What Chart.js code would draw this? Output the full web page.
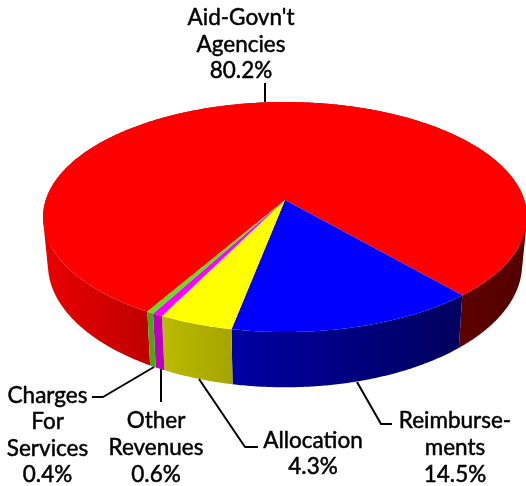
<!DOCTYPE html>
<html><head><meta charset="utf-8">
<style>html,body{margin:0;padding:0;background:#fff}canvas{display:block}</style>
<script src="https://cdn.jsdelivr.net/npm/chart.js@4"></script></head>
<body><canvas id="c" width="526" height="486"></canvas>
<script>
const categories = ["Aid-Govn't Agencies","Reimbursements","Allocation","Other Revenues","Charges For Services"];
const values = [80.2,14.5,4.3,0.6,0.4];
const topColors = ["#ff0000","#0000ff","#ffff00","#ff00ff","#66dd22"];
const labelLines = [["Aid-Govn't","Agencies"],["Reimburse-","ments"],["Allocation"],["Other","Revenues"],["Charges","For","Services"]];

const P = {cx:285, cy:200, R:239.3, S:112.5, k:0.148};
function rim(a){
  const u=Math.cos(a), v=Math.sin(a), w=1-P.k*v;
  return [P.cx+P.R*u/w, P.cy+P.S*v/w];
}
function rimLow(a){
  const p=rim(a), dy=p[1]-P.cy;
  return [P.cx+(p[0]-P.cx)*0.98, p[1]+46+0.07*dy];
}
const shadeStops=[[0,.92],[.22,.75],[.4,.64],[.86,.37],[1,.33]];
function rgb(hex){return [1,3,5].map(i=>parseInt(hex.substr(i,2),16));}
const labelLayout=[
 {x:241,y:[25,52,78],line:[[265,83],[265,102]]},
 {x:455,y:[428,455,482],line:[[357,382],[381,424],[392,424]]},
 {x:313,y:[448,474],line:[[199,379],[245,447],[258,447]]},
 {x:156,y:[428,455,482],line:[[161,369],[161,402]]},
 {x:47.5,y:[403,429,456,482],line:[[154,367],[103,397],[92,397]]}
];
const pie3d={id:'pie3d',
 beforeDatasetsDraw(chart){
  const ctx=chart.ctx, arcs=chart.getDatasetMeta(0).data;
  arcs.forEach((arc,i)=>{
    const s=arc.startAngle,e=arc.endAngle,n=Math.max(2,Math.ceil((e-s)/0.008));
    const g=ctx.createLinearGradient(43,0,526,0), c=rgb(topColors[i]);
    shadeStops.forEach(([t,f])=>g.addColorStop(t,`rgb(${c.map(x=>Math.round(x*f)).join(',')})`));
    ctx.beginPath();
    for(let j=0;j<n;j++){
      const a=s+(e-s)*j/n,b=s+(e-s)*(j+1)/n;
      let q=[rim(a),rim(b),rimLow(b),rimLow(a)];
      let area=0;q.forEach((p,m)=>{const r=q[(m+1)%4];area+=p[0]*r[1]-r[0]*p[1];});
      if(area<0)q.reverse();
      q.forEach((p,m)=>m?ctx.lineTo(p[0],p[1]):ctx.moveTo(p[0],p[1]));
      ctx.closePath();
    }
    ctx.fillStyle=g;ctx.fill();
  });
  arcs.forEach((arc,i)=>{
    const s=arc.startAngle,e=arc.endAngle,n=Math.max(2,Math.ceil((e-s)/0.008));
    ctx.beginPath();ctx.moveTo(P.cx,P.cy);
    for(let j=0;j<=n;j++){const p=rim(s+(e-s)*j/n);ctx.lineTo(p[0],p[1]);}
    ctx.closePath();ctx.fillStyle=topColors[i];ctx.fill();
  });
  ctx.strokeStyle='#000';ctx.lineWidth=2;ctx.lineJoin='round';
  labelLayout.forEach(l=>{ctx.beginPath();l.line.forEach((p,m)=>m?ctx.lineTo(p[0],p[1]):ctx.moveTo(p[0],p[1]));ctx.stroke();});
  ctx.fillStyle='#000';ctx.font='400 22.5px Lato';ctx.textAlign='center';ctx.textBaseline='alphabetic';ctx.lineWidth=0.5;
  labelLines.forEach((lines,i)=>{
    const all=[...lines,values[i].toFixed(1)+'%'];
    all.forEach((t,j)=>{ctx.fillText(t,labelLayout[i].x,labelLayout[i].y[j]);ctx.strokeText(t,labelLayout[i].x,labelLayout[i].y[j]);});
  });
  return false;
 }
};
new Chart(document.getElementById('c'),{
 type:'pie',
 data:{labels:categories,datasets:[{data:values,backgroundColor:topColors,borderWidth:0}]},
 options:{responsive:false,animation:false,rotation:210.1,
  plugins:{legend:{display:false},tooltip:{enabled:false}}},
 plugins:[pie3d]
});
</script></body></html>
